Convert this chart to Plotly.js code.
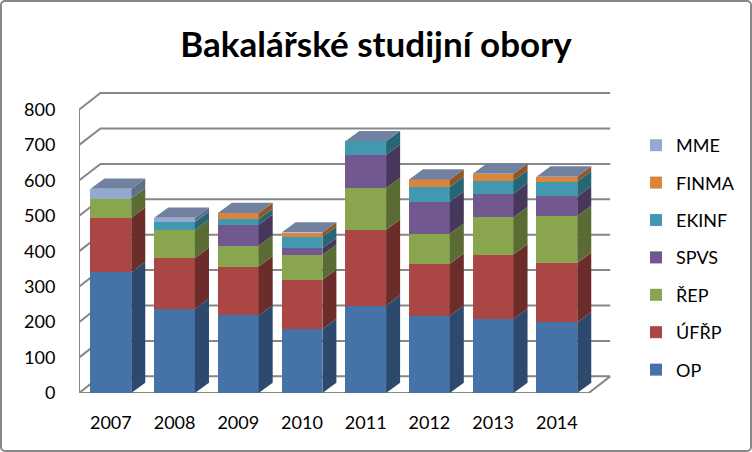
<!DOCTYPE html>
<html>
<head>
<meta charset="utf-8">
<script src="https://cdn.plot.ly/plotly-3.0.1.min.js"></script>
<style>
    body { margin: 0; background: #ffffff; }
    #wrap { position: relative; width: 752px; height: 452px; }
    #plot { width: 752px; height: 452px; }
    #frame {
        position: absolute; left: 0; top: 0;
        width: 748px; height: 448px;
        border: 2px solid #878787; border-radius: 5px;
        pointer-events: none;
    }
</style>
</head>
<body>
<div id="wrap">
    <div id="plot"></div>
    <div id="frame"></div>
</div>
<script>
const years = ["2007", "2008", "2009", "2010", "2011", "2012", "2013", "2014"];
const yTicks = [0, 100, 200, 300, 400, 500, 600, 700, 800];

const OP    = [341, 237, 219, 180, 247, 218, 209, 200];
const UFRP  = [154, 144, 138, 140, 214, 147, 182, 167];
const REP   = [54, 79, 59, 70, 118, 85, 105, 133];
const SPVS  = [0, 0, 59, 19, 94, 90, 67, 55];
const EKINF = [0, 23, 16, 32, 38, 42, 37, 42];
const FINMA = [0, 0, 17, 12, 0, 21, 19, 14];
const MME   = [28, 12, 0, 0, 0, 0, 0, 0];

const seriesNames = ["OP", "ÚFŘP", "ŘEP", "SPVS", "EKINF", "FINMA", "MME"];
const seriesValues = [OP, UFRP, REP, SPVS, EKINF, FINMA, MME];

const frontColors = ["#4572A7", "#AA4643", "#89A54E", "#71588F", "#4198AF", "#DB843D", "#93A9CF"];
const sideColors  = ["#2D4A6E", "#6B2C2A", "#5A6C33", "#47385B", "#276574", "#915628", "#607089"];
const topColor = "#70829F";
const gridColor = "#878787";

// pseudo 3d geometry, in data units
const barWidth = 0.64;
const barDx = 0.22;
const barDy = 29;
const wallDx = 0.337;
const wallDy = 47;
const xLeft = -0.5;
const xRight = 7.5;
const yTop = 800;

const xIdx = years.map((_, i) => i);
const font = "Lato, 'Open Sans', sans-serif";

// top series first in the legend
const traces = seriesNames.map((name, s) => ({
    type: "bar",
    name: name,
    legendgroup: name,
    legendrank: 100 - s,
    x: xIdx,
    y: seriesValues[s],
    width: barWidth,
    marker: { color: frontColors[s], line: { width: 0 } },
    hoverinfo: "x+y+name"
}));

function poly(pts) {
    return "M" + pts.map(p => p[0] + "," + p[1]).join(" L") + " Z";
}

const shapes = [];

// walls and floor
yTicks.forEach(v => {
    shapes.push({
        type: "path", xref: "x", yref: "y", layer: "below",
        path: "M" + xLeft + "," + v + " L" + (xLeft + wallDx) + "," + (v + wallDy) +
              " L" + (xRight + wallDx) + "," + (v + wallDy),
        line: { color: gridColor, width: 2 }
    });
});
shapes.push({
    type: "path", xref: "x", yref: "y", layer: "below",
    path: "M" + xLeft + "," + yTop + " L" + xLeft + ",0 L" + xRight + ",0 L" +
          (xRight + wallDx) + "," + wallDy,
    line: { color: gridColor, width: 2 }
});

// side faces of each segment and a top face for each stack
years.forEach((_, i) => {
    let base = 0;
    const xr = i + barWidth / 2;
    const xl = i - barWidth / 2;
    seriesValues.forEach((vals, s) => {
        const v = vals[i];
        if (v <= 0) return;
        shapes.push({
            type: "path", xref: "x", yref: "y", layer: "above",
            path: poly([[xr, base], [xr, base + v], [xr + barDx, base + v + barDy], [xr + barDx, base + barDy]]),
            fillcolor: sideColors[s],
            line: { width: 0 }
        });
        base += v;
    });
    shapes.push({
        type: "path", xref: "x", yref: "y", layer: "above",
        path: poly([[xl, base], [xr, base], [xr + barDx, base + barDy], [xl + barDx, base + barDy]]),
        fillcolor: topColor,
        line: { width: 0 }
    });
});

const layout = {
    width: 752,
    height: 452,
    margin: { l: 79, r: 140.7, t: 92.3, b: 59, pad: 0 },
    paper_bgcolor: "#ffffff",
    plot_bgcolor: "rgba(0,0,0,0)",
    barmode: "stack",
    font: { family: font, size: 18, color: "#000000" },
    title: {
        text: "<b>Bakalářské studijní obory</b>",
        font: { family: font, size: 35, color: "#000000" },
        x: 0.5, xref: "container", xanchor: "center",
        y: 0.9, yref: "container", yanchor: "middle"
    },
    xaxis: {
        range: [xLeft, xRight + 0.35],
        tickmode: "array",
        tickvals: xIdx,
        ticktext: years,
        ticks: "outside", ticklen: 13, tickcolor: "rgba(0,0,0,0)",
        showgrid: false, zeroline: false, showline: false,
        fixedrange: true
    },
    yaxis: {
        range: [0, 850],
        tickmode: "array",
        tickvals: yTicks,
        ticks: "outside", ticklen: 19, tickcolor: "rgba(0,0,0,0)",
        showgrid: false, zeroline: false, showline: false,
        fixedrange: true
    },
    legend: {
        traceorder: "grouped",
        tracegroupgap: 11,
        xref: "container", yref: "container",
        x: 636 / 752, xanchor: "left",
        y: 1 - 127 / 452, yanchor: "top",
        maxheight: 320,
        font: { family: font, size: 18 },
        bgcolor: "rgba(0,0,0,0)"
    },
    shapes: shapes
};

Plotly.newPlot("plot", traces, layout, { displayModeBar: false, staticPlot: true });
</script>
</body>
</html>
